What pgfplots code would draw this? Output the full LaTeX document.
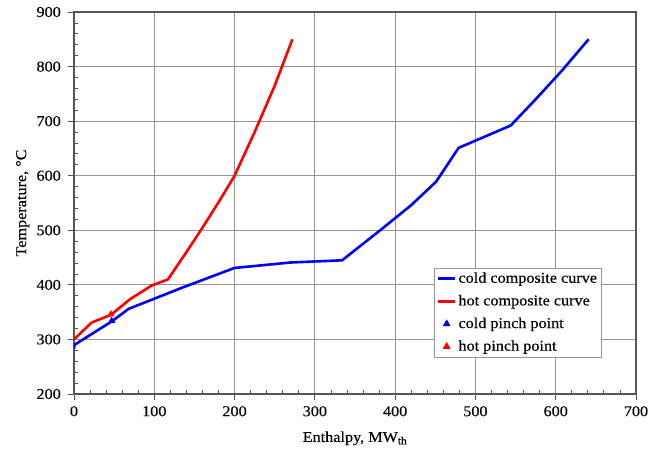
\documentclass[border=0pt]{standalone}
\usepackage{pgfplots}
\pgfplotsset{compat=1.18}
\usepackage{fontspec}
\setmainfont[FakeStretch=1.08, FakeBold=0.3]{Liberation Serif}

\definecolor{framegray}{RGB}{85,85,85}
\definecolor{gridgray}{RGB}{150,150,150}

\begin{document}
\fontsize{15bp}{18bp}\selectfont
\begin{tikzpicture}
\begin{axis}[
  scale only axis,
  width=562bp, height=382bp,
  xmin=0, xmax=700, ymin=200, ymax=900,
  xtick={0,100,...,700}, ytick={200,300,...,900},
  minor x tick num=4, minor y tick num=4,
  tick pos=left,
  tick align=inside,
  major tick length=-6bp,
  minor tick length=4bp,
  xmajorgrids, ymajorgrids,
  grid style={gridgray, line width=0.9bp},
  axis line style={framegray, line width=1.2bp},
  tick style={framegray, line width=0.8bp},
  /pgf/number format/assume math mode=true,
  ticklabel style={font=\fontsize{15bp}{18bp}\selectfont},
  xticklabel style={yshift=-7bp},
  yticklabel style={xshift=-8bp},
  label style={font=\fontsize{15bp}{18bp}\selectfont},
  xlabel={Enthalpy, MW\textsubscript{th}},
  ylabel={Temperature, °C},
  xlabel style={yshift=-5bp},
  ylabel style={yshift=-3bp},
  legend style={
    at={(axis cs:449,431)}, anchor=north west,
    draw=gridgray, fill=white, line width=0.8bp,
    font=\fontsize{15bp}{18bp}\selectfont,
    row sep=6bp, inner sep=2bp,
    legend cell align=left,
  },
]
% cold composite curve
\addplot[blue, line width=2.6bp, forget plot] coordinates {
  (0,283) (0.5,290) (47,333) (68,356) (135,395) (200,431) (270,441)
  (334,445) (383,502) (420,546) (451,589) (479,651) (544,692)
  (575,740) (608,793) (641,850)
};
% hot composite curve
\addplot[red, line width=2.6bp, forget plot] coordinates {
  (0,300) (22,331) (46,345) (70,374) (97,399) (117,410) (140,460)
  (161,507) (182,556) (200,600) (225,680) (250,765) (272,850)
};
% pinch points
\addplot[only marks, mark=triangle*, mark size=3.8bp, blue, forget plot] coordinates {(47,334)};
\addplot[only marks, mark=triangle*, mark size=3.8bp, red, forget plot] coordinates {(46,346)};

\addlegendimage{blue, line width=2.6bp}
\addlegendentry{cold composite curve}
\addlegendimage{red, line width=2.6bp}
\addlegendentry{hot composite curve}
\addlegendimage{only marks, mark=triangle*, mark size=3.8bp, blue}
\addlegendentry{cold pinch point}
\addlegendimage{only marks, mark=triangle*, mark size=3.8bp, red}
\addlegendentry{hot pinch point}
\end{axis}
\pgfresetboundingbox
\path[use as bounding box] ([shift={(-74bp,-56bp)}]current axis.south west)
  rectangle ([shift={(14bp,12bp)}]current axis.north east);
\end{tikzpicture}
\end{document}
